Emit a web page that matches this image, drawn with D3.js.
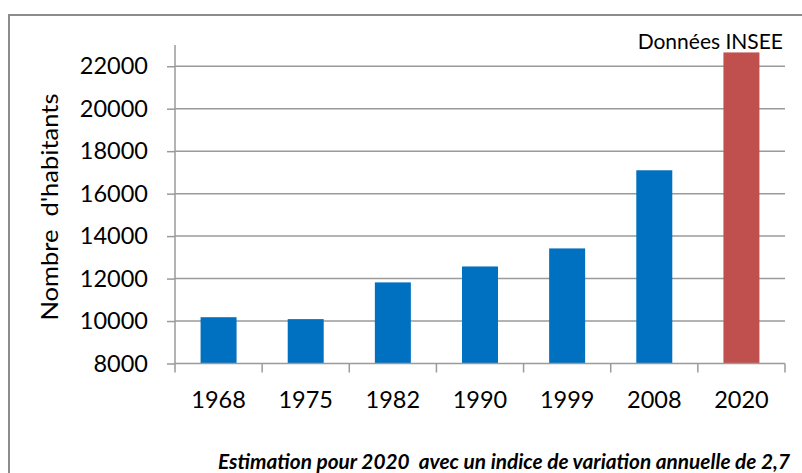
<!DOCTYPE html>
<html>
<head>
<meta charset="utf-8">
<script src="https://cdn.jsdelivr.net/npm/d3@7"></script>
<style>
  body { margin: 0; background: #fff; }
  text { font-family: Lato, "Open Sans", sans-serif; fill: #000; }
</style>
</head>
<body>
<div id="chart"></div>
<script>
const years = ["1968", "1975", "1982", "1990", "1999", "2008", "2020"];
const habitants = [10180, 10090, 11820, 12570, 13420, 17100, 22650];
const barColors = ["#0070C0", "#0070C0", "#0070C0", "#0070C0", "#0070C0", "#0070C0", "#C0504D"];
const yTicks = [8000, 10000, 12000, 14000, 16000, 18000, 20000, 22000];

const W = 802, H = 473;
const plot = {left: 175, right: 785, top: 45, bottom: 363.5};

const svg = d3.select("#chart")
    .append("svg")
    .attr("width", W)
    .attr("height", H);

// cadre du graphique
svg.append("rect")
    .attr("x", 9).attr("y", 15)
    .attr("width", 820).attr("height", 500)
    .attr("fill", "#fff")
    .attr("stroke", "#8c8c8c")
    .attr("stroke-width", 2);

const x = d3.scaleBand()
    .domain(years)
    .range([plot.left, plot.right])
    .padding(0);
const y = d3.scaleLinear()
    .domain([8000, 23000])
    .range([plot.bottom, plot.top]);

// grille horizontale
svg.append("g")
    .selectAll("line")
    .data(yTicks.filter(d => d > 8000))
    .enter().append("line")
    .attr("x1", plot.left).attr("x2", plot.right)
    .attr("y1", d => y(d)).attr("y2", d => y(d))
    .attr("stroke", "#9a9a9a")
    .attr("stroke-width", 1.5);

// barres
const barW = x.bandwidth() * 0.413;
svg.append("g")
    .selectAll("rect")
    .data(years)
    .enter().append("rect")
    .attr("x", d => x(d) + (x.bandwidth() - barW) / 2)
    .attr("width", barW)
    .attr("y", (d, i) => y(habitants[i]))
    .attr("height", (d, i) => y(8000) - y(habitants[i]))
    .attr("fill", (d, i) => barColors[i]);

// axe Y
const yAxis = svg.append("g")
    .attr("transform", "translate(" + plot.left + ",0)")
    .call(d3.axisLeft(y).tickValues(yTicks).tickSize(8).tickPadding(19).tickFormat(d3.format("d")));
yAxis.select(".domain").attr("stroke", "#9a9a9a").attr("stroke-width", 1.5).attr("d", "M0," + plot.top + "V" + plot.bottom);
yAxis.selectAll(".tick line").attr("stroke", "#9a9a9a").attr("stroke-width", 1.5);
yAxis.selectAll(".tick text").attr("font-size", 23.5).attr("font-family", "Lato").attr("fill", "#000");

// axe X
const xAxis = svg.append("g")
    .attr("transform", "translate(0," + plot.bottom + ")");
xAxis.append("line")
    .attr("x1", plot.left).attr("x2", plot.right)
    .attr("stroke", "#9a9a9a").attr("stroke-width", 1.5);
xAxis.selectAll(".xtick")
    .data(years.concat(["end"]))
    .enter().append("line")
    .attr("x1", (d, i) => plot.left + i * x.step())
    .attr("x2", (d, i) => plot.left + i * x.step())
    .attr("y1", 0).attr("y2", 9)
    .attr("stroke", "#9a9a9a").attr("stroke-width", 1.5);
xAxis.selectAll(".xlabel")
    .data(years)
    .enter().append("text")
    .attr("x", d => x(d) + x.bandwidth() / 2)
    .attr("y", 44.5)
    .attr("text-anchor", "middle")
    .attr("font-size", 23.5)
    .text(d => d);

// titre de l'axe Y
svg.append("text")
    .attr("transform", "translate(58,207) rotate(-90)")
    .attr("text-anchor", "middle")
    .attr("font-size", 23)
    .attr("textLength", 227)
    .attr("lengthAdjust", "spacingAndGlyphs")
    .attr("xml:space", "preserve")
    .text("Nombre  d'habitants");

svg.append("text")
    .attr("x", 783).attr("y", 49)
    .attr("text-anchor", "end")
    .attr("font-size", 21)
    .text("Données INSEE");

svg.append("text")
    .attr("x", 218).attr("y", 469)
    .attr("font-size", 20)
    .attr("font-weight", "bold")
    .attr("font-style", "italic")
    .attr("textLength", 572)
    .attr("lengthAdjust", "spacingAndGlyphs")
    .attr("xml:space", "preserve")
    .text("Estimation pour 2020  avec un indice de variation annuelle de 2,7");
</script>
</body>
</html>
